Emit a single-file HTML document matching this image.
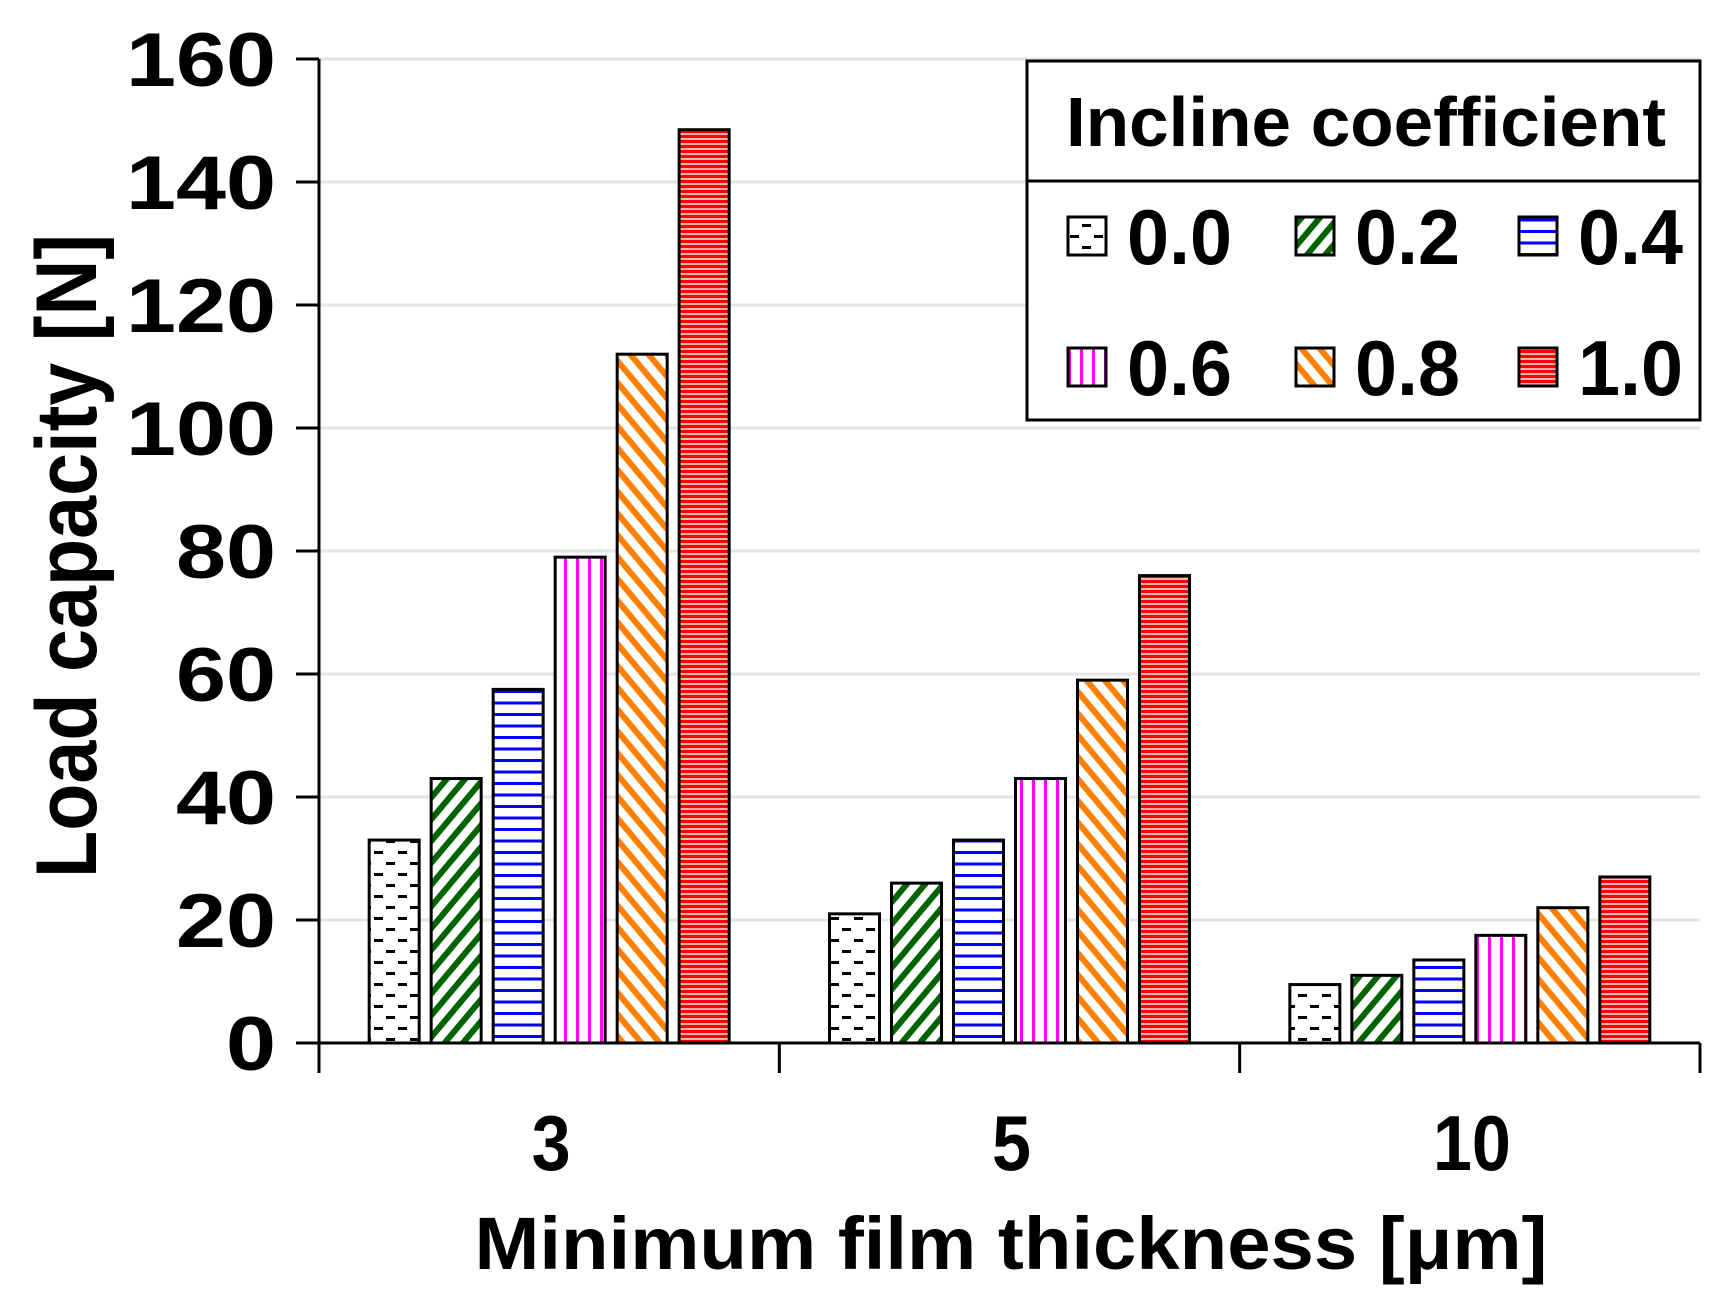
<!DOCTYPE html>
<html><head><meta charset="utf-8"><style>html,body{margin:0;padding:0;background:#fff}svg{display:block}</style></head>
<body>
<svg id="chart" width="1735" height="1302" viewBox="0 0 1735 1302" xmlns="http://www.w3.org/2000/svg" font-family="Liberation Sans, Arial, sans-serif" font-weight="bold">
<defs>
<pattern id="p0" patternUnits="userSpaceOnUse" width="24" height="22"><rect width="24" height="22" fill="#fff"/><rect x="2" y="4" width="9" height="3" fill="#000"/><rect x="14" y="15" width="9" height="3" fill="#000"/></pattern>
<pattern id="p1" patternUnits="userSpaceOnUse" width="14" height="14" patternTransform="rotate(40)"><rect width="14" height="14" fill="#fff"/><rect width="6" height="14" fill="#006400"/></pattern>
<pattern id="p2" patternUnits="userSpaceOnUse" width="10" height="11.5"><rect width="10" height="11.5" fill="#fff"/><rect y="0" width="10" height="3" fill="#0000ff"/></pattern>
<pattern id="p3" patternUnits="userSpaceOnUse" width="12" height="10"><rect width="12" height="10" fill="#fff"/><rect x="0" width="3" height="10" fill="#ff00ff"/></pattern>
<pattern id="p4" patternUnits="userSpaceOnUse" width="14" height="14" patternTransform="rotate(-40)"><rect width="14" height="14" fill="#fff"/><rect width="6" height="14" fill="#ff7f00"/></pattern>
<pattern id="p5" patternUnits="userSpaceOnUse" width="10" height="5"><rect width="10" height="5" fill="#ffb0b0"/><rect width="10" height="3" fill="#ff0000"/></pattern>
</defs>
<g id="grid"></g>
<g id="bars"></g>
<g id="axes"></g>
<g id="legend">
<rect x="1027" y="61" width="673" height="359" fill="#fff" stroke="#000" stroke-width="3"/>
<line x1="1027" y1="181" x2="1700" y2="181" stroke="#000" stroke-width="3"/>
<text x="1366" y="146" font-size="70" text-anchor="middle" textLength="600" lengthAdjust="spacingAndGlyphs">Incline coefficient</text>
</g>
<text transform="translate(96,556) rotate(-90)" font-size="86" text-anchor="middle" textLength="644" lengthAdjust="spacingAndGlyphs">Load capacity [N]</text>
<text x="1011" y="1269" font-size="74" text-anchor="middle" textLength="1073" lengthAdjust="spacingAndGlyphs">Minimum film thickness [μm]</text>
</svg>
<script>
const categories = ['3', '5', '10'];
const seriesNames = ['0.0', '0.2', '0.4', '0.6', '0.8', '1.0'];
const s00 = [33, 21, 9.5];
const s02 = [43, 26, 11];
const s04 = [57.5, 33, 13.5];
const s06 = [79, 43, 17.5];
const s08 = [112, 59, 22];
const s10 = [148.5, 76, 27];
const yTicks = [0, 20, 40, 60, 80, 100, 120, 140, 160];
const series = [s00, s02, s04, s06, s08, s10];

const NS = 'http://www.w3.org/2000/svg';
const X0 = 319, X1 = 1700, Y0 = 1043, Y1 = 59, YMAX = 160;
const yScale = v => Y0 - (v / YMAX) * (Y0 - Y1);
const groupW = (X1 - X0) / categories.length;
const xCenter = i => X0 + groupW * (i + 0.5);
const BAR_W = 50, BAR_STEP = 62;
function mk(tag, attrs, parent) { const e = document.createElementNS(NS, tag); for (const k in attrs) e.setAttribute(k, attrs[k]); parent.appendChild(e); return e; }
const grid = document.getElementById('grid'), bars = document.getElementById('bars'), axes = document.getElementById('axes'), legend = document.getElementById('legend');

yTicks.forEach(t => {
  const y = yScale(t);
  if (t > 0) {
    const g = mk('line', {x1: X0, x2: X1, y1: y, y2: y, stroke: '#e4e4e4', 'stroke-width': 3}, grid);
    
    
  }
  const tk = mk('line', {x1: 296, x2: X0, y1: y, y2: y, stroke: '#000', 'stroke-width': 3}, axes);
  
  
  const s = String(t);
  const lb = mk('text', {x: 276, y: y + 27, 'font-size': 76, 'text-anchor': 'end', textLength: s.length * 50, lengthAdjust: 'spacingAndGlyphs'}, axes);
  lb.textContent = s;
  
  
});

categories.forEach((c, i) => {
  const cx = xCenter(i);
  series.forEach((s, j) => {
    const x = cx - (BAR_STEP * 5 + BAR_W) / 2 + j * BAR_STEP;
    const y = yScale(s[i]);
    const r = mk('rect', {x: x, y: y, width: BAR_W, height: Y0 - y, fill: 'url(#p' + j + ')', stroke: '#000', 'stroke-width': 3}, bars);
    
    
  });
  const lb = mk('text', {x: cx + 2, y: 1170, 'font-size': 78, 'text-anchor': 'middle', textLength: c.length * 39, lengthAdjust: 'spacingAndGlyphs'}, axes);
  lb.textContent = c;
  
  
});
for (let i = 0; i <= categories.length; i++) {
  const x = X0 + groupW * i;
  const tk = mk('line', {x1: x, x2: x, y1: Y0, y2: 1073, stroke: '#000', 'stroke-width': 3}, axes);
  
  
}
const ya = mk('line', {x1: X0, x2: X0, y1: Y1, y2: 1073, stroke: '#000', 'stroke-width': 3}, axes);


const xa = mk('line', {x1: 296, x2: X1, y1: Y0, y2: Y0, stroke: '#000', 'stroke-width': 3}, axes);



const legCols = [1068, 1296, 1519], legRows = [236, 367];
seriesNames.forEach((n, j) => {
  const lx = legCols[j % 3], ly = legRows[Math.floor(j / 3)];
  const sw = mk('rect', {x: lx, y: ly - 19, width: 38, height: 38, fill: 'url(#p' + j + ')', stroke: '#000', 'stroke-width': 3}, legend);
  
  
  const t = mk('text', {x: lx + 59, y: ly + 28, 'font-size': 78, textLength: 105, lengthAdjust: 'spacingAndGlyphs'}, legend);
  t.textContent = n;
  
  
});
</script>
</body></html>
